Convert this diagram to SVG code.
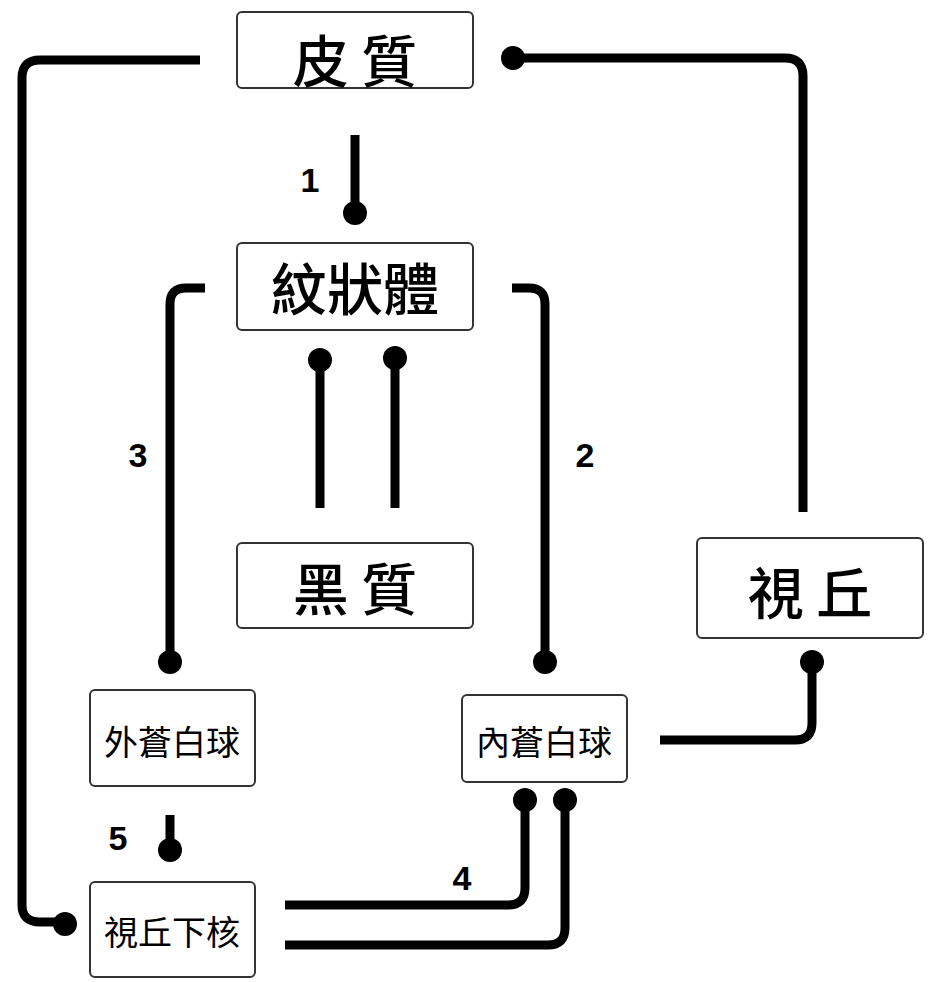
<svg xmlns="http://www.w3.org/2000/svg" width="934" height="982" viewBox="0 0 934 982">
<style>
.box{fill:#fff;stroke:#333;stroke-width:2}
.big{font-family:"Noto Sans CJK TC","Noto Sans CJK JP",sans-serif;font-size:56px;font-weight:500;text-anchor:middle;fill:#000}
.sm{font-family:"Noto Sans CJK TC","Noto Sans CJK JP",sans-serif;font-size:34px;text-anchor:middle;fill:#000}
.num{font-family:"Liberation Sans",Arial,sans-serif;font-size:34px;font-weight:bold;text-anchor:middle;fill:#000}
.ln{fill:none;stroke:#000;stroke-width:9;stroke-linejoin:round}
</style>
<rect width="934" height="982" fill="#fff"/>
<g id="connectors">
<path class="ln" d="M200,60 H40 Q22,60 22,78 V905 Q22,922 40,922 H62"/>
<circle cx="65" cy="924" r="12"/>
<path class="ln" d="M513,58 H785 Q803,58 803,76 V512"/>
<circle cx="513" cy="58" r="12"/>
<path class="ln" d="M355,135 V210"/>
<circle cx="355" cy="213" r="12"/>
<path class="ln" d="M205,288 H186 Q170,288 170,304 V655"/>
<circle cx="170" cy="662" r="12"/>
<path class="ln" d="M512,288 H529 Q545,288 545,304 V655"/>
<circle cx="545" cy="662" r="12"/>
<path class="ln" d="M320,508 V362"/>
<circle cx="320" cy="360" r="12"/>
<path class="ln" d="M395,508 V360"/>
<circle cx="395" cy="358" r="12"/>
<path class="ln" d="M660,740 H795 Q812,740 812,723 V665"/>
<circle cx="812" cy="662" r="12"/>
<path class="ln" d="M170,815 V848"/>
<circle cx="170" cy="850" r="12"/>
<path class="ln" d="M285,905 H508 Q525,905 525,888 V805"/>
<circle cx="525" cy="800" r="12"/>
<path class="ln" d="M285,945 H548 Q565,945 565,928 V805"/>
<circle cx="565" cy="800" r="12"/>
<text class="num" x="310" y="192">1</text>
<text class="num" x="138" y="467">3</text>
<text class="num" x="585" y="467">2</text>
<text class="num" x="118" y="850">5</text>
<text class="num" x="462" y="890">4</text>
</g>
<g id="n1"><rect class="box" x="237" y="12" width="236" height="76" rx="5"/><text class="big" x="355" y="82">皮 質</text></g>
<g id="n2"><rect class="box" x="237" y="243" width="236" height="87" rx="5"/><text class="big" x="355" y="310">紋狀體</text></g>
<g id="n3"><rect class="box" x="237" y="543" width="236" height="85" rx="5"/><text class="big" x="355" y="610">黑 質</text></g>
<g id="n4"><rect class="box" x="697" y="538" width="226" height="100" rx="5"/><text class="big" x="810" y="614">視 丘</text></g>
<g id="n5"><rect class="box" x="90" y="690" width="165" height="96" rx="5"/><text class="sm" x="172" y="755">外蒼白球</text></g>
<g id="n6"><rect class="box" x="462" y="695" width="165" height="87" rx="5"/><text class="sm" x="544" y="755">內蒼白球</text></g>
<g id="n7"><rect class="box" x="90" y="882" width="165" height="95" rx="5"/><text class="sm" x="172" y="945">視丘下核</text></g>
</svg>
